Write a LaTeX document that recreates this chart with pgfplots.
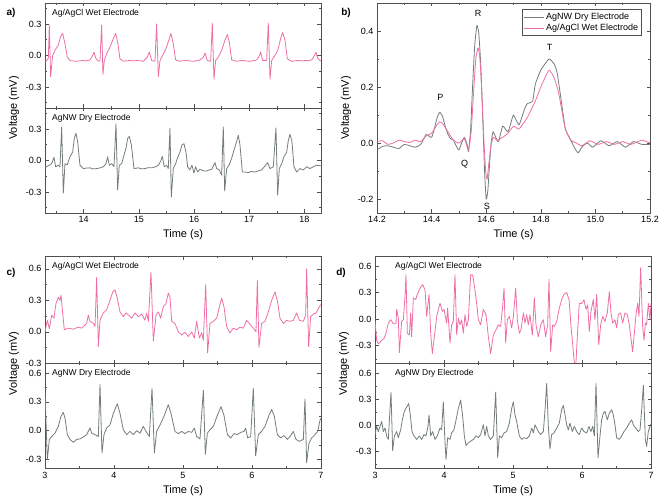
\documentclass[border=0pt]{standalone}
\usepackage{pgfplots}
\pgfplotsset{compat=1.18}
\usepackage{fontspec}
\setmainfont{Liberation Sans}
\definecolor{wet}{RGB}{238,110,165}
\definecolor{dry}{RGB}{115,125,125}
\definecolor{frame}{RGB}{80,80,80}

\pgfplotsset{
  ecg/.style={
    scale only axis,
    width=276pt, height=105pt,
    tick align=inside,
    major tick length=3.5pt, minor tick length=2pt,
    axis line style={frame, line width=0.8pt},
    tick style={frame, line width=0.6pt},
    tick label style={font=\fontsize{9}{10}\selectfont},
    label style={font=\fontsize{11}{13}\selectfont},
    /pgf/number format/assume math mode=true,
    yticklabel style={/pgf/number format/fixed, /pgf/number format/fixed zerofill, /pgf/number format/precision=1},
    scaled ticks=false,
    every axis plot/.append style={line width=0.8pt, line join=round},
  },
}
\tikzset{
  tag/.style={anchor=north west, inner sep=0pt, xshift=7pt, yshift=-6pt, font=\fontsize{8.5}{10}\selectfont},
}

\begin{document}
\begin{tikzpicture}
\path[use as bounding box] (0pt,0pt) rectangle (661pt,503pt);

% ---------- a) ----------
\begin{axis}[ecg, at={(45pt,395pt)}, anchor=south west,
  xmin=13.3, xmax=18.3, ymin=-0.5, ymax=0.5,
  xtick={14,15,16,17,18}, xticklabels={}, minor xtick={13.5,14.5,15.5,16.5,17.5},
  ytick={-0.3,0,0.3}, minor ytick={-0.45,-0.15,0.15,0.45}]
\addplot[wet] coordinates {
(13.30,-0.055)(13.318,-0.055)(13.36,-0.03)(13.378,0.29)(13.402,-0.20)(13.438,0.0)(13.481,0.05)(13.541,0.10)(13.583,0.18)(13.62,0.21)(13.662,0.11)(13.704,-0.016)(13.752,-0.048)(13.80,-0.052)(13.873,-0.055)(13.93,-0.05)(13.994,-0.048)(14.05,-0.052)(14.115,-0.042)(14.163,0.0)(14.187,0.032)(14.217,-0.023)(14.266,-0.055)(14.296,-0.048)(14.326,0.29)(14.35,-0.18)(14.375,-0.048)(14.417,0.016)(14.477,0.08)(14.537,0.16)(14.58,0.21)(14.622,0.11)(14.658,-0.032)(14.719,-0.055)(14.78,-0.05)(14.839,-0.048)(14.90,-0.052)(14.96,-0.048)(15.02,-0.05)(15.081,-0.055)(15.153,-0.016)(15.19,0.032)(15.232,-0.048)(15.292,-0.055)(15.322,0.30)(15.353,-0.20)(15.383,-0.048)(15.431,0.0)(15.491,0.065)(15.552,0.16)(15.582,0.21)(15.625,0.11)(15.667,-0.042)(15.745,-0.055)(15.80,-0.05)(15.866,-0.048)(15.93,-0.052)(15.987,-0.055)(16.05,-0.05)(16.107,-0.042)(16.168,-0.016)(16.198,0.023)(16.24,-0.048)(16.301,-0.055)(16.331,0.31)(16.361,-0.226)(16.391,-0.048)(16.44,-0.016)(16.50,0.048)(16.56,0.145)(16.603,0.20)(16.639,0.13)(16.681,-0.042)(16.772,-0.055)(16.83,-0.05)(16.893,-0.048)(16.95,-0.052)(17.013,-0.055)(17.07,-0.05)(17.134,-0.042)(17.176,-0.01)(17.207,0.032)(17.243,-0.048)(17.315,-0.048)(17.345,0.31)(17.376,-0.226)(17.406,-0.048)(17.466,0.0)(17.515,0.048)(17.569,0.16)(17.605,0.22)(17.648,0.145)(17.69,-0.032)(17.768,-0.055)(17.83,-0.05)(17.889,-0.048)(17.95,-0.052)(18.01,-0.048)(18.07,-0.05)(18.131,-0.042)(18.173,-0.01)(18.209,0.032)(18.239,-0.023)(18.281,-0.048)(18.30,-0.05)
};
\node[tag] at (rel axis cs:0,1) {Ag/AgCl Wet Electrode};
\end{axis}

\begin{axis}[ecg, at={(45pt,290pt)}, anchor=south west,
  xmin=13.3, xmax=18.3, ymin=-0.5, ymax=0.5,
  xtick={14,15,16,17,18}, minor xtick={13.5,14.5,15.5,16.5,17.5},
  ytick={-0.3,0,0.3}, minor ytick={-0.45,-0.15,0.15,0.45},
  xlabel={Time (s)}, ylabel={Voltage (mV)}, ylabel style={at={(ticklabel cs:1)}}]
\addplot[dry] coordinates {
(13.30,-0.06)(13.318,-0.06)(13.378,-0.045)(13.42,-0.03)(13.463,0.03)(13.493,-0.06)(13.541,-0.045)(13.571,-0.06)(13.602,0.32)(13.632,-0.31)(13.662,-0.03)(13.704,-0.04)(13.752,0.035)(13.801,0.08)(13.831,0.21)(13.861,0.26)(13.891,0.18)(13.934,-0.045)(13.994,-0.077)(14.05,-0.072)(14.115,-0.07)(14.17,-0.08)(14.236,-0.077)(14.30,-0.07)(14.356,-0.06)(14.405,-0.03)(14.435,0.035)(14.465,-0.045)(14.507,-0.03)(14.55,-0.06)(14.586,0.35)(14.616,-0.28)(14.646,-0.045)(14.689,-0.03)(14.731,0.05)(14.767,0.115)(14.797,0.21)(14.827,0.23)(14.864,0.15)(14.912,-0.077)(14.99,-0.07)(15.05,-0.08)(15.111,-0.077)(15.17,-0.068)(15.232,-0.07)(15.30,-0.06)(15.353,-0.045)(15.395,-0.006)(15.425,0.04)(15.461,-0.06)(15.504,-0.045)(15.534,-0.077)(15.564,0.31)(15.588,-0.35)(15.624,-0.077)(15.667,-0.03)(15.697,0.02)(15.745,0.08)(15.782,0.15)(15.818,0.16)(15.854,0.08)(15.884,-0.06)(15.926,-0.09)(15.963,-0.045)(15.999,-0.12)(16.029,-0.06)(16.065,-0.11)(16.10,-0.085)(16.138,-0.09)(16.18,-0.1)(16.228,-0.10)(16.27,-0.09)(16.319,-0.086)(16.379,-0.02)(16.41,-0.077)(16.458,-0.09)(16.50,-0.14)(16.53,0.32)(16.555,-0.29)(16.591,-0.077)(16.633,-0.045)(16.681,0.02)(16.724,0.10)(16.772,0.18)(16.802,0.24)(16.832,0.15)(16.875,-0.11)(16.93,-0.11)(16.983,-0.115)(17.04,-0.105)(17.104,-0.11)(17.16,-0.1)(17.225,-0.09)(17.297,-0.045)(17.333,-0.02)(17.376,-0.077)(17.436,-0.06)(17.484,0.31)(17.515,-0.33)(17.545,-0.077)(17.587,-0.03)(17.629,0.035)(17.678,0.08)(17.708,0.19)(17.738,0.25)(17.774,0.18)(17.81,-0.06)(17.859,-0.11)(17.919,-0.077)(17.98,-0.09)(18.04,-0.06)(18.10,-0.077)(18.161,-0.06)(18.221,-0.045)(18.281,-0.05)(18.30,-0.05)
};
\node[tag] at (rel axis cs:0,1) {AgNW Dry Electrode};
\end{axis}

% ---------- b) ----------
\begin{axis}[ecg, at={(377pt,290pt)}, anchor=south west, width=273pt, height=210pt,
  xmin=14.2, xmax=15.2, ymin=-0.25, ymax=0.5,
  xtick={14.2,14.4,14.6,14.8,15.0,15.2}, minor xtick={14.3,14.5,14.7,14.9,15.1},
  xticklabel style={/pgf/number format/fixed, /pgf/number format/fixed zerofill, /pgf/number format/precision=1},
  ytick={-0.2,0,0.2,0.4}, minor ytick={-0.1,0.1,0.3},
  xlabel={Time (s)}, ylabel={Voltage (mV)},
  legend style={at={(rel axis cs:0.97,0.97)}, anchor=north east, draw=frame, line width=0.5pt,
    font=\fontsize{9}{10}\selectfont, inner sep=1.5pt, row sep=-1pt},
  legend cell align=left,
  legend image code/.code={\draw[#1, line width=0.8pt] (0pt,0pt) -- (20pt,0pt);}]
\addplot[dry, smooth, tension=0.3] coordinates {
(14.20,-0.025)(14.22,-0.012)(14.24,-0.01)(14.26,-0.015)(14.28,-0.02)(14.30,-0.005)(14.32,-0.01)(14.34,-0.015)(14.36,-0.005)(14.38,0.03)(14.39,0.025)(14.40,0.02)(14.41,0.05)(14.42,0.09)(14.43,0.11)(14.44,0.095)(14.45,0.06)(14.46,0.03)(14.47,0.015)(14.48,0.01)(14.49,-0.01)(14.50,-0.025)(14.51,0.0)(14.52,0.02)(14.53,-0.005)(14.535,-0.03)(14.543,0.05)(14.55,0.2)(14.558,0.35)(14.566,0.42)(14.573,0.39)(14.58,0.28)(14.587,0.1)(14.594,-0.1)(14.60,-0.2)(14.606,-0.17)(14.612,-0.08)(14.618,0.0)(14.625,0.04)(14.635,0.02)(14.645,0.005)(14.66,0.06)(14.67,0.05)(14.68,0.04)(14.69,0.07)(14.70,0.10)(14.72,0.065)(14.74,0.12)(14.75,0.14)(14.77,0.15)(14.78,0.21)(14.80,0.26)(14.83,0.30)(14.85,0.28)(14.86,0.25)(14.875,0.15)(14.89,0.05)(14.91,0.01)(14.925,-0.02)(14.937,-0.035)(14.95,-0.015)(14.97,0.0)(14.99,-0.015)(15.02,0.008)(15.05,-0.01)(15.08,0.005)(15.11,-0.015)(15.14,0.005)(15.17,-0.005)(15.20,-0.005)
};
\addlegendentry{AgNW Dry Electrode}
\addplot[wet, smooth, tension=0.3] coordinates {
(14.20,0.005)(14.22,0.008)(14.24,-0.005)(14.26,0.0)(14.28,0.01)(14.30,0.005)(14.32,0.002)(14.34,0.01)(14.36,0.005)(14.38,0.025)(14.40,0.035)(14.42,0.065)(14.43,0.075)(14.44,0.07)(14.46,0.04)(14.48,0.01)(14.50,0.0)(14.52,0.015)(14.535,-0.025)(14.545,0.04)(14.553,0.17)(14.562,0.3)(14.57,0.34)(14.577,0.3)(14.584,0.18)(14.592,0.0)(14.598,-0.1)(14.603,-0.13)(14.609,-0.08)(14.616,-0.02)(14.625,0.02)(14.64,0.01)(14.66,0.02)(14.68,0.035)(14.70,0.06)(14.72,0.05)(14.75,0.09)(14.78,0.15)(14.80,0.20)(14.83,0.26)(14.85,0.23)(14.865,0.18)(14.88,0.1)(14.89,0.05)(14.91,0.01)(14.93,0.0)(14.95,-0.01)(14.98,0.008)(15.01,-0.005)(15.04,0.005)(15.07,-0.005)(15.10,0.005)(15.13,-0.005)(15.17,0.01)(15.20,0.0)
};
\addlegendentry{Ag/AgCl Wet Electrode}
\node[font=\fontsize{9}{10}\selectfont] at (axis cs:14.432,0.162) {P};
\node[font=\fontsize{9}{10}\selectfont] at (axis cs:14.57,0.462) {R};
\node[font=\fontsize{9}{10}\selectfont] at (axis cs:14.832,0.341) {T};
\node[font=\fontsize{9}{10}\selectfont] at (axis cs:14.521,-0.075) {Q};
\node[font=\fontsize{9}{10}\selectfont] at (axis cs:14.602,-0.228) {S};
\end{axis}

% ---------- c) ----------
\begin{axis}[ecg, at={(45pt,139.7pt)}, anchor=south west, height=107pt,
  xmin=3, xmax=7, ymin=-0.3, ymax=0.72,
  xtick={3,4,5,6,7}, xticklabels={}, minor xtick={3.5,4.5,5.5,6.5},
  ytick={-0.3,0,0.3,0.6}, minor ytick={-0.15,0.15,0.45}]
\addplot[wet] coordinates {
(3.000,0.0)(3.034,0.11)(3.063,0.03)(3.097,0.16)(3.130,0.13)(3.159,0.27)(3.193,0.33)(3.217,0.30)(3.232,0.35)(3.256,0.18)(3.280,0.02)(3.338,0.035)(3.411,0.025)(3.483,0.045)(3.531,0.035)(3.604,0.08)(3.628,0.16)(3.652,0.10)(3.700,0.08)(3.725,0.05)(3.749,0.52)(3.773,-0.14)(3.797,0.11)(3.845,0.18)(3.894,0.21)(3.942,0.30)(3.981,0.38)(4.014,0.40)(4.048,0.32)(4.087,0.19)(4.135,0.145)(4.174,0.18)(4.208,0.16)(4.256,0.13)(4.304,0.18)(4.353,0.145)(4.401,0.17)(4.449,0.11)(4.473,0.18)(4.498,0.10)(4.536,0.57)(4.570,-0.09)(4.609,0.16)(4.643,0.19)(4.676,0.13)(4.715,0.24)(4.754,0.27)(4.787,0.37)(4.812,0.33)(4.836,0.10)(4.884,0.08)(4.932,0.0)(4.981,-0.03)(5.029,-0.005)(5.077,-0.045)(5.126,0.0)(5.164,-0.06)(5.198,0.10)(5.237,-0.06)(5.271,-0.01)(5.295,-0.08)(5.329,0.45)(5.357,-0.20)(5.391,0.08)(5.440,0.10)(5.488,0.13)(5.536,0.26)(5.560,0.32)(5.594,0.24)(5.633,0.05)(5.681,-0.01)(5.729,0.035)(5.778,0.02)(5.826,0.045)(5.874,0.035)(5.923,0.11)(5.961,0.08)(6.019,0.035)(6.058,0.0)(6.077,0.49)(6.101,-0.15)(6.140,0.08)(6.188,0.10)(6.237,0.19)(6.285,0.30)(6.333,0.38)(6.367,0.30)(6.406,0.13)(6.454,0.08)(6.502,0.11)(6.551,0.10)(6.599,0.11)(6.647,0.18)(6.686,0.11)(6.744,0.10)(6.778,0.16)(6.792,0.60)(6.821,-0.14)(6.850,0.145)(6.889,0.17)(6.928,0.18)(6.961,0.22)(6.995,0.26)
};
\node[tag] at (rel axis cs:0,1) {Ag/AgCl Wet Electrode};
\end{axis}

\begin{axis}[ecg, at={(45pt,34.7pt)}, anchor=south west,
  xmin=3, xmax=7, ymin=-0.39, ymax=0.7,
  xtick={3,4,5,6,7}, minor xtick={3.5,4.5,5.5,6.5},
  ytick={-0.3,0,0.3,0.6}, minor ytick={-0.15,0.15,0.45},
  xlabel={Time (s)}, ylabel={Voltage (mV)}, ylabel style={at={(ticklabel cs:1)}}]
\addplot[dry] coordinates {
(3.000,0.40)(3.034,-0.30)(3.063,-0.09)(3.097,-0.06)(3.145,-0.025)(3.193,0.045)(3.232,0.15)(3.266,0.19)(3.290,0.13)(3.324,-0.04)(3.362,-0.09)(3.411,-0.12)(3.459,-0.09)(3.507,-0.085)(3.556,-0.065)(3.604,-0.04)(3.652,0.03)(3.676,-0.025)(3.725,-0.04)(3.773,-0.06)(3.797,0.48)(3.826,-0.23)(3.855,-0.04)(3.894,0.03)(3.942,0.06)(3.990,0.18)(4.048,0.28)(4.087,0.18)(4.135,0.01)(4.184,-0.04)(4.232,-0.007)(4.280,-0.04)(4.329,0.0)(4.377,-0.025)(4.425,0.045)(4.464,-0.007)(4.512,-0.06)(4.551,0.44)(4.585,-0.23)(4.618,-0.007)(4.667,0.06)(4.725,0.15)(4.787,0.27)(4.826,0.18)(4.884,-0.007)(4.932,-0.03)(4.981,-0.007)(5.029,-0.03)(5.077,-0.007)(5.126,-0.017)(5.164,0.027)(5.198,-0.06)(5.246,-0.085)(5.295,0.42)(5.324,-0.245)(5.353,-0.025)(5.391,0.01)(5.440,0.045)(5.498,0.16)(5.551,0.25)(5.594,0.16)(5.643,-0.04)(5.691,-0.075)(5.739,-0.03)(5.787,-0.04)(5.836,-0.017)(5.884,-0.007)(5.908,0.027)(5.937,-0.075)(5.981,-0.06)(6.019,0.44)(6.053,-0.26)(6.092,-0.04)(6.140,-0.007)(6.188,0.045)(6.246,0.16)(6.285,0.22)(6.324,0.15)(6.367,-0.04)(6.415,-0.075)(6.464,-0.05)(6.512,-0.09)(6.551,-0.06)(6.599,-0.007)(6.638,-0.09)(6.686,-0.11)(6.744,-0.09)(6.768,0.33)(6.792,-0.33)(6.826,-0.13)(6.865,-0.075)(6.913,-0.04)(6.952,-0.007)(6.986,0.11)(7.000,0.13)
};
\node[tag] at (rel axis cs:0,1) {AgNW Dry Electrode};
\end{axis}

% ---------- d) ----------
\begin{axis}[ecg, at={(375pt,139.7pt)}, anchor=south west, height=107pt,
  xmin=3, xmax=7, ymin=-0.5, ymax=0.71,
  xtick={3,4,5,6,7}, xticklabels={}, minor xtick={3.5,4.5,5.5,6.5},
  ytick={-0.3,0,0.3,0.6}, minor ytick={-0.45,-0.15,0.15,0.45}]
\addplot[wet] coordinates {
(3.000,-0.027)(3.024,-0.24)(3.048,-0.28)(3.097,-0.24)(3.130,-0.22)(3.159,-0.16)(3.193,-0.045)(3.227,-0.008)(3.266,-0.053)(3.304,-0.053)(3.314,0.11)(3.338,0.01)(3.353,-0.38)(3.386,-0.027)(3.411,-0.008)(3.435,0.26)(3.449,0.50)(3.469,-0.16)(3.498,-0.18)(3.517,0.07)(3.531,-0.20)(3.556,0.24)(3.589,0.22)(3.614,0.28)(3.652,0.35)(3.691,0.39)(3.725,0.33)(3.749,0.03)(3.783,0.28)(3.807,-0.16)(3.831,-0.39)(3.860,-0.20)(3.894,0.03)(3.942,0.18)(3.976,0.087)(4.000,0.11)(4.039,-0.045)(4.053,0.125)(4.087,-0.27)(4.111,-0.065)(4.135,-0.027)(4.159,0.50)(4.184,-0.18)(4.208,0.01)(4.232,-0.065)(4.256,-0.008)(4.280,-0.16)(4.304,0.05)(4.329,-0.084)(4.353,-0.008)(4.386,0.50)(4.415,0.50)(4.449,0.33)(4.473,0.18)(4.498,-0.008)(4.531,-0.065)(4.570,0.11)(4.609,0.05)(4.643,-0.20)(4.676,-0.39)(4.715,-0.18)(4.754,-0.12)(4.787,-0.065)(4.821,-0.084)(4.850,0.145)(4.870,0.35)(4.894,-0.27)(4.918,-0.008)(4.947,0.03)(4.981,-0.10)(5.005,0.03)(5.039,0.35)(5.063,-0.008)(5.092,-0.16)(5.116,-0.12)(5.150,0.07)(5.174,-0.045)(5.198,0.05)(5.222,-0.065)(5.246,0.05)(5.280,-0.18)(5.309,0.24)(5.333,-0.065)(5.367,-0.20)(5.401,-0.065)(5.440,-0.008)(5.473,-0.20)(5.502,-0.065)(5.522,0.45)(5.546,-0.37)(5.575,-0.065)(5.599,-0.084)(5.633,-0.027)(5.667,0.11)(5.705,0.22)(5.739,0.28)(5.778,0.30)(5.812,0.22)(5.841,-0.084)(5.865,-0.29)(5.884,-0.46)(5.908,-0.56)(5.932,-0.20)(5.961,0.18)(5.995,0.175)(6.029,0.22)(6.058,0.11)(6.082,0.16)(6.106,-0.14)(6.130,0.087)(6.164,0.22)(6.188,-0.008)(6.213,0.28)(6.242,-0.29)(6.271,-0.065)(6.300,0.03)(6.333,-0.027)(6.367,0.07)(6.396,0.31)(6.420,0.07)(6.444,-0.045)(6.478,-0.008)(6.502,-0.10)(6.527,0.05)(6.560,0.07)(6.589,-0.045)(6.623,0.07)(6.657,0.05)(6.686,-0.065)(6.710,-0.22)(6.734,-0.37)(6.758,-0.16)(6.783,0.05)(6.807,0.18)(6.826,0.03)(6.850,0.58)(6.879,-0.084)(6.899,-0.24)(6.918,-0.045)(6.937,-0.065)(6.961,0.18)(6.986,-0.008)(7.000,0.18)
};
\node[tag, xshift=13pt] at (rel axis cs:0,1) {Ag/AgCl Wet Electrode};
\end{axis}

\begin{axis}[ecg, at={(375pt,34.7pt)}, anchor=south west,
  xmin=3, xmax=7, ymin=-0.49, ymax=0.71,
  xtick={3,4,5,6,7}, minor xtick={3.5,4.5,5.5,6.5},
  ytick={-0.3,0,0.3,0.6}, minor ytick={-0.45,-0.15,0.15,0.45},
  xlabel={Time (s)}, ylabel={Voltage (mV)}, ylabel style={at={(ticklabel cs:1)}}]
\addplot[dry] coordinates {
(3.000,-0.105)(3.024,-0.011)(3.048,-0.07)(3.072,-0.011)(3.097,0.045)(3.121,-0.07)(3.145,-0.03)(3.169,-0.12)(3.193,-0.16)(3.217,0.18)(3.232,0.38)(3.256,-0.29)(3.280,-0.12)(3.314,-0.07)(3.338,-0.14)(3.372,-0.05)(3.396,0.064)(3.425,0.16)(3.459,0.21)(3.488,0.25)(3.512,0.12)(3.536,-0.07)(3.565,-0.12)(3.604,-0.16)(3.643,-0.12)(3.676,-0.16)(3.710,-0.105)(3.739,-0.12)(3.768,-0.011)(3.783,0.12)(3.807,-0.12)(3.836,-0.07)(3.870,-0.16)(3.903,-0.12)(3.942,-0.03)(3.966,-0.05)(3.990,0.27)(4.010,-0.12)(4.029,-0.39)(4.053,-0.14)(4.087,-0.16)(4.111,-0.086)(4.145,-0.05)(4.184,0.10)(4.208,0.195)(4.242,0.29)(4.271,0.10)(4.295,-0.12)(4.319,-0.23)(4.353,-0.20)(4.386,-0.18)(4.425,-0.16)(4.464,-0.12)(4.498,-0.14)(4.531,-0.105)(4.570,0.008)(4.594,-0.12)(4.618,-0.011)(4.643,-0.12)(4.676,-0.16)(4.715,-0.12)(4.749,0.38)(4.778,-0.37)(4.802,-0.12)(4.836,-0.14)(4.870,-0.086)(4.908,-0.07)(4.947,0.026)(4.981,0.195)(5.005,0.27)(5.029,0.12)(5.053,0.045)(5.092,-0.12)(5.126,-0.16)(5.159,-0.14)(5.198,-0.15)(5.237,-0.12)(5.271,-0.03)(5.295,-0.086)(5.319,0.008)(5.343,-0.03)(5.367,-0.07)(5.401,-0.105)(5.440,-0.07)(5.464,0.18)(5.488,0.48)(5.512,-0.011)(5.536,-0.27)(5.560,-0.105)(5.594,-0.086)(5.633,-0.03)(5.671,0.026)(5.705,0.18)(5.729,0.23)(5.754,0.12)(5.778,0.008)(5.802,-0.05)(5.826,0.026)(5.860,-0.07)(5.889,-0.011)(5.923,-0.07)(5.961,-0.105)(5.995,-0.03)(6.029,-0.07)(6.068,-0.086)(6.101,-0.011)(6.130,-0.07)(6.155,-0.011)(6.179,-0.12)(6.203,0.48)(6.232,-0.37)(6.261,-0.12)(6.285,0.064)(6.309,0.14)(6.333,0.16)(6.367,0.064)(6.396,0.14)(6.430,0.18)(6.454,0.12)(6.478,0.008)(6.502,-0.14)(6.541,-0.16)(6.575,-0.12)(6.609,-0.07)(6.647,-0.03)(6.686,0.026)(6.720,0.064)(6.744,0.008)(6.778,-0.03)(6.816,-0.07)(6.841,-0.05)(6.865,0.18)(6.889,0.46)(6.918,-0.16)(6.937,-0.24)(6.961,-0.07)(6.986,-0.011)(7.000,0.02)
};
\node[tag, xshift=13pt] at (rel axis cs:0,1) {AgNW Dry Electrode};
\end{axis}

% panel letters
\node[font=\bfseries\fontsize{10}{12}\selectfont] at (11pt,490pt) {a)};
\node[font=\bfseries\fontsize{10}{12}\selectfont] at (346pt,490pt) {b)};
\node[font=\bfseries\fontsize{10}{12}\selectfont] at (11pt,230pt) {c)};
\node[font=\bfseries\fontsize{10}{12}\selectfont] at (341pt,230pt) {d)};
\end{tikzpicture}
\end{document}
